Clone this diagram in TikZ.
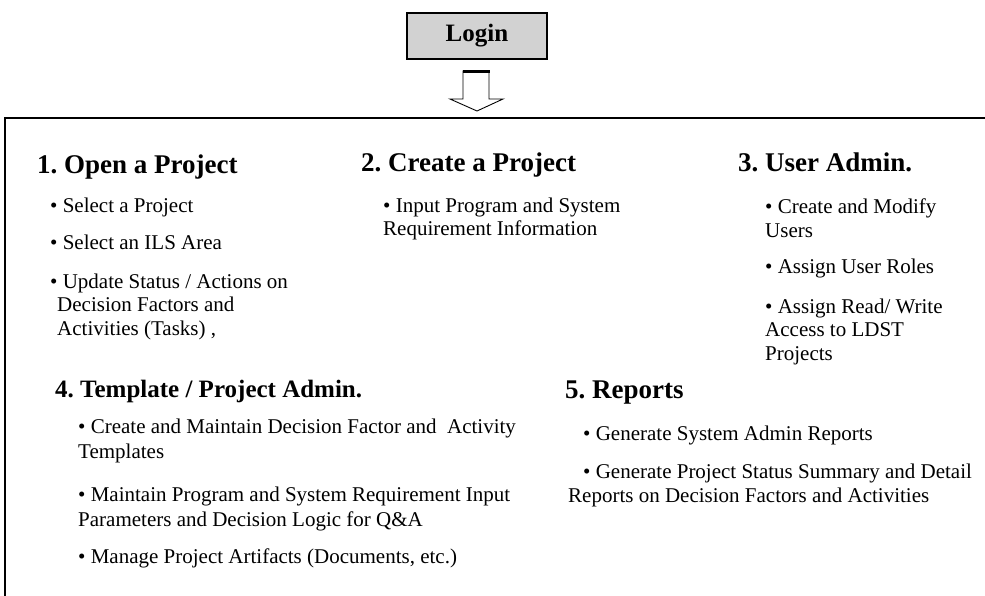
\documentclass[tikz,border=0pt]{standalone}
\usepackage{fontspec}
\setmainfont{Liberation Serif}
\frenchspacing

% base anchor of a multi-line item is the baseline of its last line
\tikzset{
  head/.style={anchor=base west, inner sep=0pt, font=\fontsize{27}{30}\selectfont\bfseries},
  item/.style={anchor=base west, inner sep=0pt, align=left, font=\fontsize{21}{23.5}\selectfont},
  wideitem/.style={item, font=\fontsize{21}{25}\selectfont},
}

\begin{document}
\begin{tikzpicture}[x=1pt, y=-1pt]
       \useasboundingbox (0,0) rectangle (985,596);
       % login box and arrow
       \node[draw, line width=2pt, fill=gray!35, minimum width=140pt, minimum height=46pt,
       font=\fontsize{25}{28}\selectfont\bfseries] (login) at (477,36) {Login};
       \draw[line width=.9pt, fill=white] (463,71) -- (489,71) -- (489,99) -- (503,99)
       -- (477,111) -- (450,99) -- (463,99) -- cycle;
       \draw[line width=3pt] (462.5,71.5) -- (489.5,71.5);
       % frame (right and bottom sides are off the page)
       \draw[line width=2pt] (5,596) -- (5,118) -- (985,118);

       \node[head] (open) at (37,174) {1. Open a Project};
       \node[item] (open1) at (50,212) {\textbullet\ Select a Project};
       \node[item] (open2) at (50,249) {\textbullet\ Select an ILS Area};
       \node[item] (open3) at (50,335) {\textbullet\ Update Status / Actions on\\
       \hspace*{7pt}Decision Factors and\\\hspace*{7pt}Activities (Tasks) ,};

       \node[head] (create) at (361,172) {2. Create a Project};
       \node[item] (create1) at (383,236) {\textbullet\ Input Program and System\\Requirement Information};

       \node[head] (user) at (738,172) {3. User Admin.};
       \node[item] (user1) at (765,237) {\textbullet\ Create and Modify\\Users};
       \node[item] (user2) at (765,273) {\textbullet\ Assign User Roles};
       \node[item] (user3) at (765,360) {\textbullet\ Assign Read/ Write\\Access to LDST\\Projects};

       \node[head, font=\fontsize{25}{30}\selectfont\bfseries] (templ) at (55,397) {4. Template / Project Admin.};
       \node[wideitem] (templ1) at (78,458) {\textbullet\ Create and Maintain Decision Factor and \ Activity\\Templates};
       \node[wideitem] (templ2) at (78,526) {\textbullet\ Maintain Program and System Requirement Input\\Parameters and Decision Logic for Q\&A};
       \node[wideitem] (templ3) at (78,563) {\textbullet\ Manage Project Artifacts (Documents, etc.)};

       \node[head] (rep) at (565,398) {5. Reports};
       \node[item] (rep1) at (583,440) {\textbullet\ Generate System Admin Reports};
       \node[item] (rep2) at (568,502) {\hspace*{15pt}\textbullet\ Generate Project Status Summary and Detail\\Reports on Decision Factors and Activities};
\end{tikzpicture}
\end{document}
